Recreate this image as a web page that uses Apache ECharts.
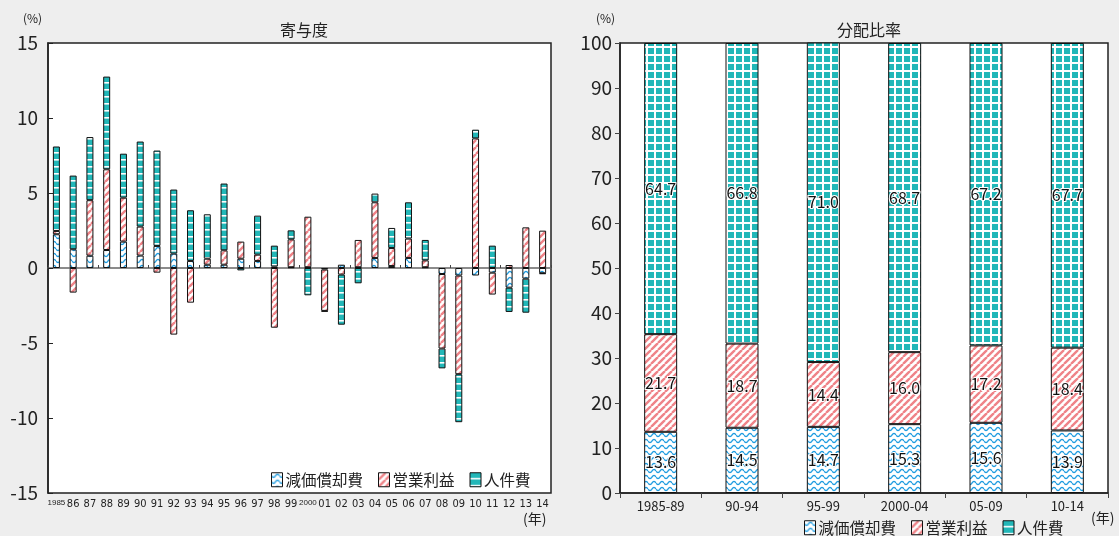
<!DOCTYPE html>
<html>
<head>
<meta charset="utf-8">
<script src="https://cdn.jsdelivr.net/npm/echarts@6/dist/echarts.min.js"></script>
<style>
  html, body { margin: 0; padding: 0; background: #eeeeee; }
  #chart { width: 1119px; height: 536px; }
</style>
</head>
<body>
<div id="chart"></div>
<script>
// 寄与度 (左)
const years = ['1985', '86', '87', '88', '89', '90', '91', '92', '93', '94', '95', '96', '97', '98', '99',
    '2000', '01', '02', '03', '04', '05', '06', '07', '08', '09', '10', '11', '12', '13', '14'];
const contribDepr = [2.25, 1.25, 0.82, 1.2, 1.76, 0.83, 1.47, 0.96, 0.47, 0.22, 0.22, 0.62, 0.47, 0.1, 0.05,
    0.05, -0.1, 0.22, 0.05, 0.67, 0.13, 0.67, 0.05, -0.4, -0.5, -0.5, -0.31, -1.31, -0.71, -0.35];
const contribProfit = [0.22, -1.64, 3.7, 5.38, 2.93, 1.93, -0.31, -4.44, -2.31, 0.4, 0.96, 1.14, 0.42, -3.98, 1.86,
    3.37, -2.76, -0.44, 1.82, 3.71, 1.2, 1.29, 0.46, -4.97, -6.58, 8.64, -1.46, 0.2, 2.71, 2.49];
const contribLabor = [5.63, 4.91, 4.21, 6.18, 2.93, 5.67, 6.36, 4.27, 3.38, 2.96, 4.45, -0.16, 2.6, 1.39, 0.6,
    -1.82, -0.05, -3.34, -1.02, 0.58, 1.34, 2.42, 1.36, -1.32, -3.2, 0.58, 1.49, -1.62, -2.27, -0.05];

// 分配比率 (右)
const periods = ['1985-89', '90-94', '95-99', '2000-04', '05-09', '10-14'];
const shareDepr = [13.6, 14.5, 14.7, 15.3, 15.6, 13.9];
const shareProfit = [21.7, 18.7, 14.4, 16.0, 17.2, 18.4];
const shareLabor = [64.7, 66.8, 71.0, 68.7, 67.2, 67.7];

const seriesNames = ['減価償却費', '営業利益', '人件費'];

const FONT = '"Noto Sans CJK JP", "Noto Sans", sans-serif';

// 模様
function makeTile(w, h, draw) {
    const c = document.createElement('canvas');
    c.width = w;
    c.height = h;
    const ctx = c.getContext('2d');
    ctx.fillStyle = '#ffffff';
    ctx.fillRect(0, 0, w, h);
    draw(ctx);
    return { image: c, repeat: 'repeat' };
}

const wavePattern = makeTile(8, 6, function (ctx) {
    ctx.strokeStyle = '#1f9ce0';
    ctx.lineWidth = 1.3;
    ctx.beginPath();
    for (let x = 0; x <= 8; x += 0.5) {
        const y = 3 + 1.6 * Math.sin(x / 8 * Math.PI * 2);
        if (x === 0) ctx.moveTo(x, y); else ctx.lineTo(x, y);
    }
    ctx.stroke();
});

const stripePattern = makeTile(7, 7, function (ctx) {
    ctx.strokeStyle = '#ef8388';
    ctx.lineWidth = 2.4;
    ctx.beginPath();
    ctx.moveTo(-7, 7); ctx.lineTo(0, 0);
    ctx.moveTo(0, 7); ctx.lineTo(7, 0);
    ctx.moveTo(7, 7); ctx.lineTo(14, 0);
    ctx.stroke();
});

const gridPattern = makeTile(8, 8, function (ctx) {
    ctx.fillStyle = '#22b7b8';
    ctx.fillRect(0, 0, 6, 6);
});

// 左の人件費は細い棒なので白い横線だけ見える
const dashPattern = makeTile(7, 7, function (ctx) {
    ctx.fillStyle = '#22b7b8';
    ctx.fillRect(0, 0, 7, 7);
    ctx.fillStyle = '#ffffff';
    ctx.fillRect(0, 5, 7, 1.6);
});

const leftPatterns = [wavePattern, stripePattern, dashPattern];
const rightPatterns = [wavePattern, stripePattern, gridPattern];

const chartDom = document.getElementById('chart');
const myChart = echarts.init(chartDom);

function leftSeries(name, data, i) {
    return {
        name: name,
        type: 'bar',
        stack: 'contrib',
        xAxisIndex: 0,
        yAxisIndex: 0,
        barWidth: 7,
        data: data,
        itemStyle: { color: leftPatterns[i], borderColor: '#111', borderWidth: 1 },
        animation: false
    };
}

function rightSeries(name, data, i) {
    return {
        name: name,
        type: 'bar',
        stack: 'share',
        xAxisIndex: 2,
        yAxisIndex: 1,
        barWidth: 33,
        data: data,
        itemStyle: { color: rightPatterns[i], borderColor: '#111', borderWidth: 1 },
        label: {
            show: true,
            position: 'inside',
            fontFamily: FONT,
            fontSize: 16,
            color: '#111',
            textBorderColor: '#ffffff',
            textBorderWidth: 2,
            formatter: function (p) { return p.value.toFixed(1); }
        },
        animation: false
    };
}

const legendCommon = {
    data: seriesNames,
    icon: 'rect',
    itemWidth: 11, itemHeight: 14, itemGap: 15,
    itemStyle: { borderColor: '#111', borderWidth: 1 },
    textStyle: { fontSize: 15.5, color: '#222', fontFamily: FONT, padding: [0, 0, 0, -2] }
};

const option = {
    backgroundColor: '#eeeeee',
    textStyle: { fontFamily: FONT },
    title: [
        { text: '寄与度', left: 299, top: 17, textAlign: 'center',
          textStyle: { fontSize: 16, fontWeight: 'normal', color: '#222', fontFamily: FONT } },
        { text: '分配比率', left: 864, top: 17, textAlign: 'center',
          textStyle: { fontSize: 16, fontWeight: 'normal', color: '#222', fontFamily: FONT } }
    ],
    legend: [
        Object.assign({}, legendCommon, { left: 266, top: 467 }),
        Object.assign({}, legendCommon, { left: 799, top: 515 })
    ],
    graphic: [
        { type: 'text', left: 23, top: 12, style: { text: '(%)', fontSize: 12, fill: '#222', fontFamily: FONT } },
        { type: 'text', left: 596, top: 12, style: { text: '(%)', fontSize: 12, fill: '#222', fontFamily: FONT } },
        { type: 'text', left: 523, top: 512, style: { text: '(年)', fontSize: 14, fill: '#222', fontFamily: FONT } },
        { type: 'text', left: 1091, top: 511, style: { text: '(年)', fontSize: 14, fill: '#222', fontFamily: FONT } }
    ],
    grid: [
        { left: 48, top: 43, width: 503, height: 450, show: true, backgroundColor: '#ffffff',
          borderColor: '#222', borderWidth: 1.5 },
        { left: 620, top: 43, width: 488, height: 450, show: true, backgroundColor: '#ffffff',
          borderColor: '#222', borderWidth: 1.5 }
    ],
    xAxis: [
        {
            type: 'category', gridIndex: 0, data: years, position: 'bottom',
            axisLine: { show: false, onZero: false },
            axisTick: { show: false },
            axisLabel: {
                interval: 0, margin: 6, color: '#222', fontSize: 11,
                fontFamily: '"Liberation Sans Narrow", "DejaVu Sans Condensed", sans-serif',
                formatter: function (v) { return v.length > 2 ? '{s|' + v + '}' : v; },
                rich: { s: { fontSize: 8, fontFamily: '"Liberation Sans Narrow", sans-serif', color: '#222' } }
            }
        },
        {
            type: 'category', gridIndex: 0, data: years,
            axisLine: { onZero: true, lineStyle: { color: '#666', width: 1.5 } },
            axisTick: { show: true, length: 3, lineStyle: { color: '#444' } },
            axisLabel: { show: false }
        },
        {
            type: 'category', gridIndex: 1, data: periods,
            axisLine: { lineStyle: { color: '#222', width: 1.5 } },
            axisTick: { show: true, length: 5, lineStyle: { color: '#444' } },
            axisLabel: { interval: 0, margin: 7, color: '#222', fontSize: 13 }
        }
    ],
    yAxis: [
        {
            type: 'value', gridIndex: 0, min: -15, max: 15, interval: 5,
            axisLine: { show: true, lineStyle: { color: '#222', width: 1.5 } },
            axisTick: { show: true, inside: true, length: 5, lineStyle: { color: '#222' } },
            axisLabel: { fontSize: 19, color: '#222', margin: 10 },
            splitLine: { show: false }
        },
        {
            type: 'value', gridIndex: 1, min: 0, max: 100, interval: 10,
            axisLine: { show: true, lineStyle: { color: '#222', width: 1.5 } },
            axisTick: { show: true, length: 5, lineStyle: { color: '#444' } },
            axisLabel: { fontSize: 19, color: '#222', margin: 8 },
            splitLine: { show: false }
        }
    ],
    series: [
        leftSeries(seriesNames[0], contribDepr, 0),
        leftSeries(seriesNames[1], contribProfit, 1),
        leftSeries(seriesNames[2], contribLabor, 2),
        rightSeries(seriesNames[0], shareDepr, 0),
        rightSeries(seriesNames[1], shareProfit, 1),
        rightSeries(seriesNames[2], shareLabor, 2)
    ]
};

myChart.setOption(option);

window.addEventListener('resize', function () {
    myChart.resize();
});
</script>
</body>
</html>
